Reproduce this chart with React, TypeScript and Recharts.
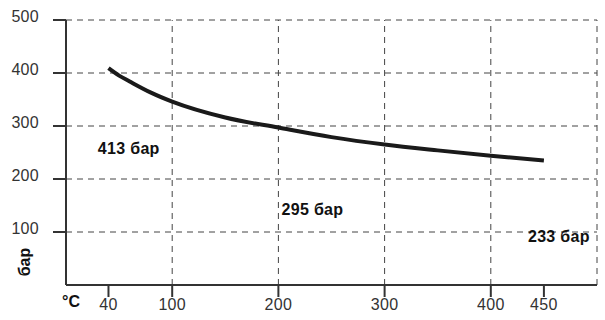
import {
  ComposedChart,
  Line,
  Scatter,
  XAxis,
  YAxis,
  CartesianGrid,
  ReferenceLine,
} from "recharts";

const temps = [40, 50, 60, 80, 100, 150, 200, 250, 300, 350, 400, 450];
const pressure = [409, 395, 384, 363, 346, 316, 297, 279, 265, 254, 244, 235];

const xTicks = [40, 100, 200, 300, 400, 450];
const yTicks = [100, 200, 300, 400, 500];
const gridX = [100, 200, 300, 400, 500];

// text notes placed in data units
const noteT = [30, 203, 435];
const noteP = [247, 132, 81];
const noteText = ["413 бар", "295 бар", "233 бар"];

const data = temps.map((t, i) => ({ t, p: pressure[i] }));
const notes = noteT.map((t, i) => ({ t, p: noteP[i], text: noteText[i] }));
const font = "'Liberation Sans', Arial, Helvetica, sans-serif";

function NoteShape(props: any) {
  const { cx, cy, payload } = props;
  return (
    <text
      x={cx}
      y={cy}
      fontSize={16}
      letterSpacing={0.3}
      fontWeight="bold"
      fill="#111"
      fontFamily={font}
    >
      {payload.text}
    </text>
  );
}

export default function App() {
  return (
    <div style={{ position: "absolute", left: 0, top: 0, background: "#fff" }}>
      <ComposedChart
        width={605}
        height={320}
        data={data}
        margin={{ top: 20, right: 8, bottom: 0, left: 0 }}
      >
        <CartesianGrid
          vertical={false}
          stroke="#444"
          strokeDasharray="6 5"
          strokeWidth={1}
        />
        {gridX.map((v) => (
          <ReferenceLine
            key={v}
            x={v}
            stroke="#444"
            strokeDasharray="6 5"
            strokeWidth={1}
          />
        ))}
        <XAxis
          dataKey="t"
          type="number"
          domain={[0, 500]}
          ticks={xTicks}
          height={35}
          tickSize={12}
          tickMargin={2}
          stroke="#333"
          strokeWidth={2}
          tick={{ fontSize: 16, letterSpacing: 0.3, fill: "#333", fontFamily: font }}
          label={{
            content: (p: any) => (
              <text
                x={p.viewBox.x + 5}
                y={p.viewBox.y + 22}
                textAnchor="middle"
                fontSize={16}
                fontWeight="bold"
                fill="#111"
                fontFamily={font}
              >
                °C
              </text>
            ),
          }}
        />
        <YAxis
          type="number"
          domain={[0, 500]}
          ticks={yTicks}
          width={66}
          tickSize={13}
          tickMargin={14}
          stroke="#333"
          strokeWidth={2}
          tick={{ fontSize: 16, letterSpacing: 0.3, fill: "#333", fontFamily: font, dy: -4 }}
          label={{
            content: (p: any) => {
              const x = p.viewBox.x + 30;
              const y = p.viewBox.y + p.viewBox.height - 23;
              return (
                <text
                  x={x}
                  y={y}
                  transform={`rotate(-90 ${x} ${y})`}
                  textAnchor="middle"
                  fontSize={16}
                  fontWeight="bold"
                  fill="#111"
                  fontFamily={font}
                >
                  бар
                </text>
              );
            },
          }}
        />
        <Line
          type="monotone"
          dataKey="p"
          stroke="#1a1a1a"
          strokeWidth={4}
          dot={false}
          isAnimationActive={false}
        />
        <Scatter
          data={notes}
          dataKey="p"
          shape={NoteShape}
          isAnimationActive={false}
        />
      </ComposedChart>
    </div>
  );
}
